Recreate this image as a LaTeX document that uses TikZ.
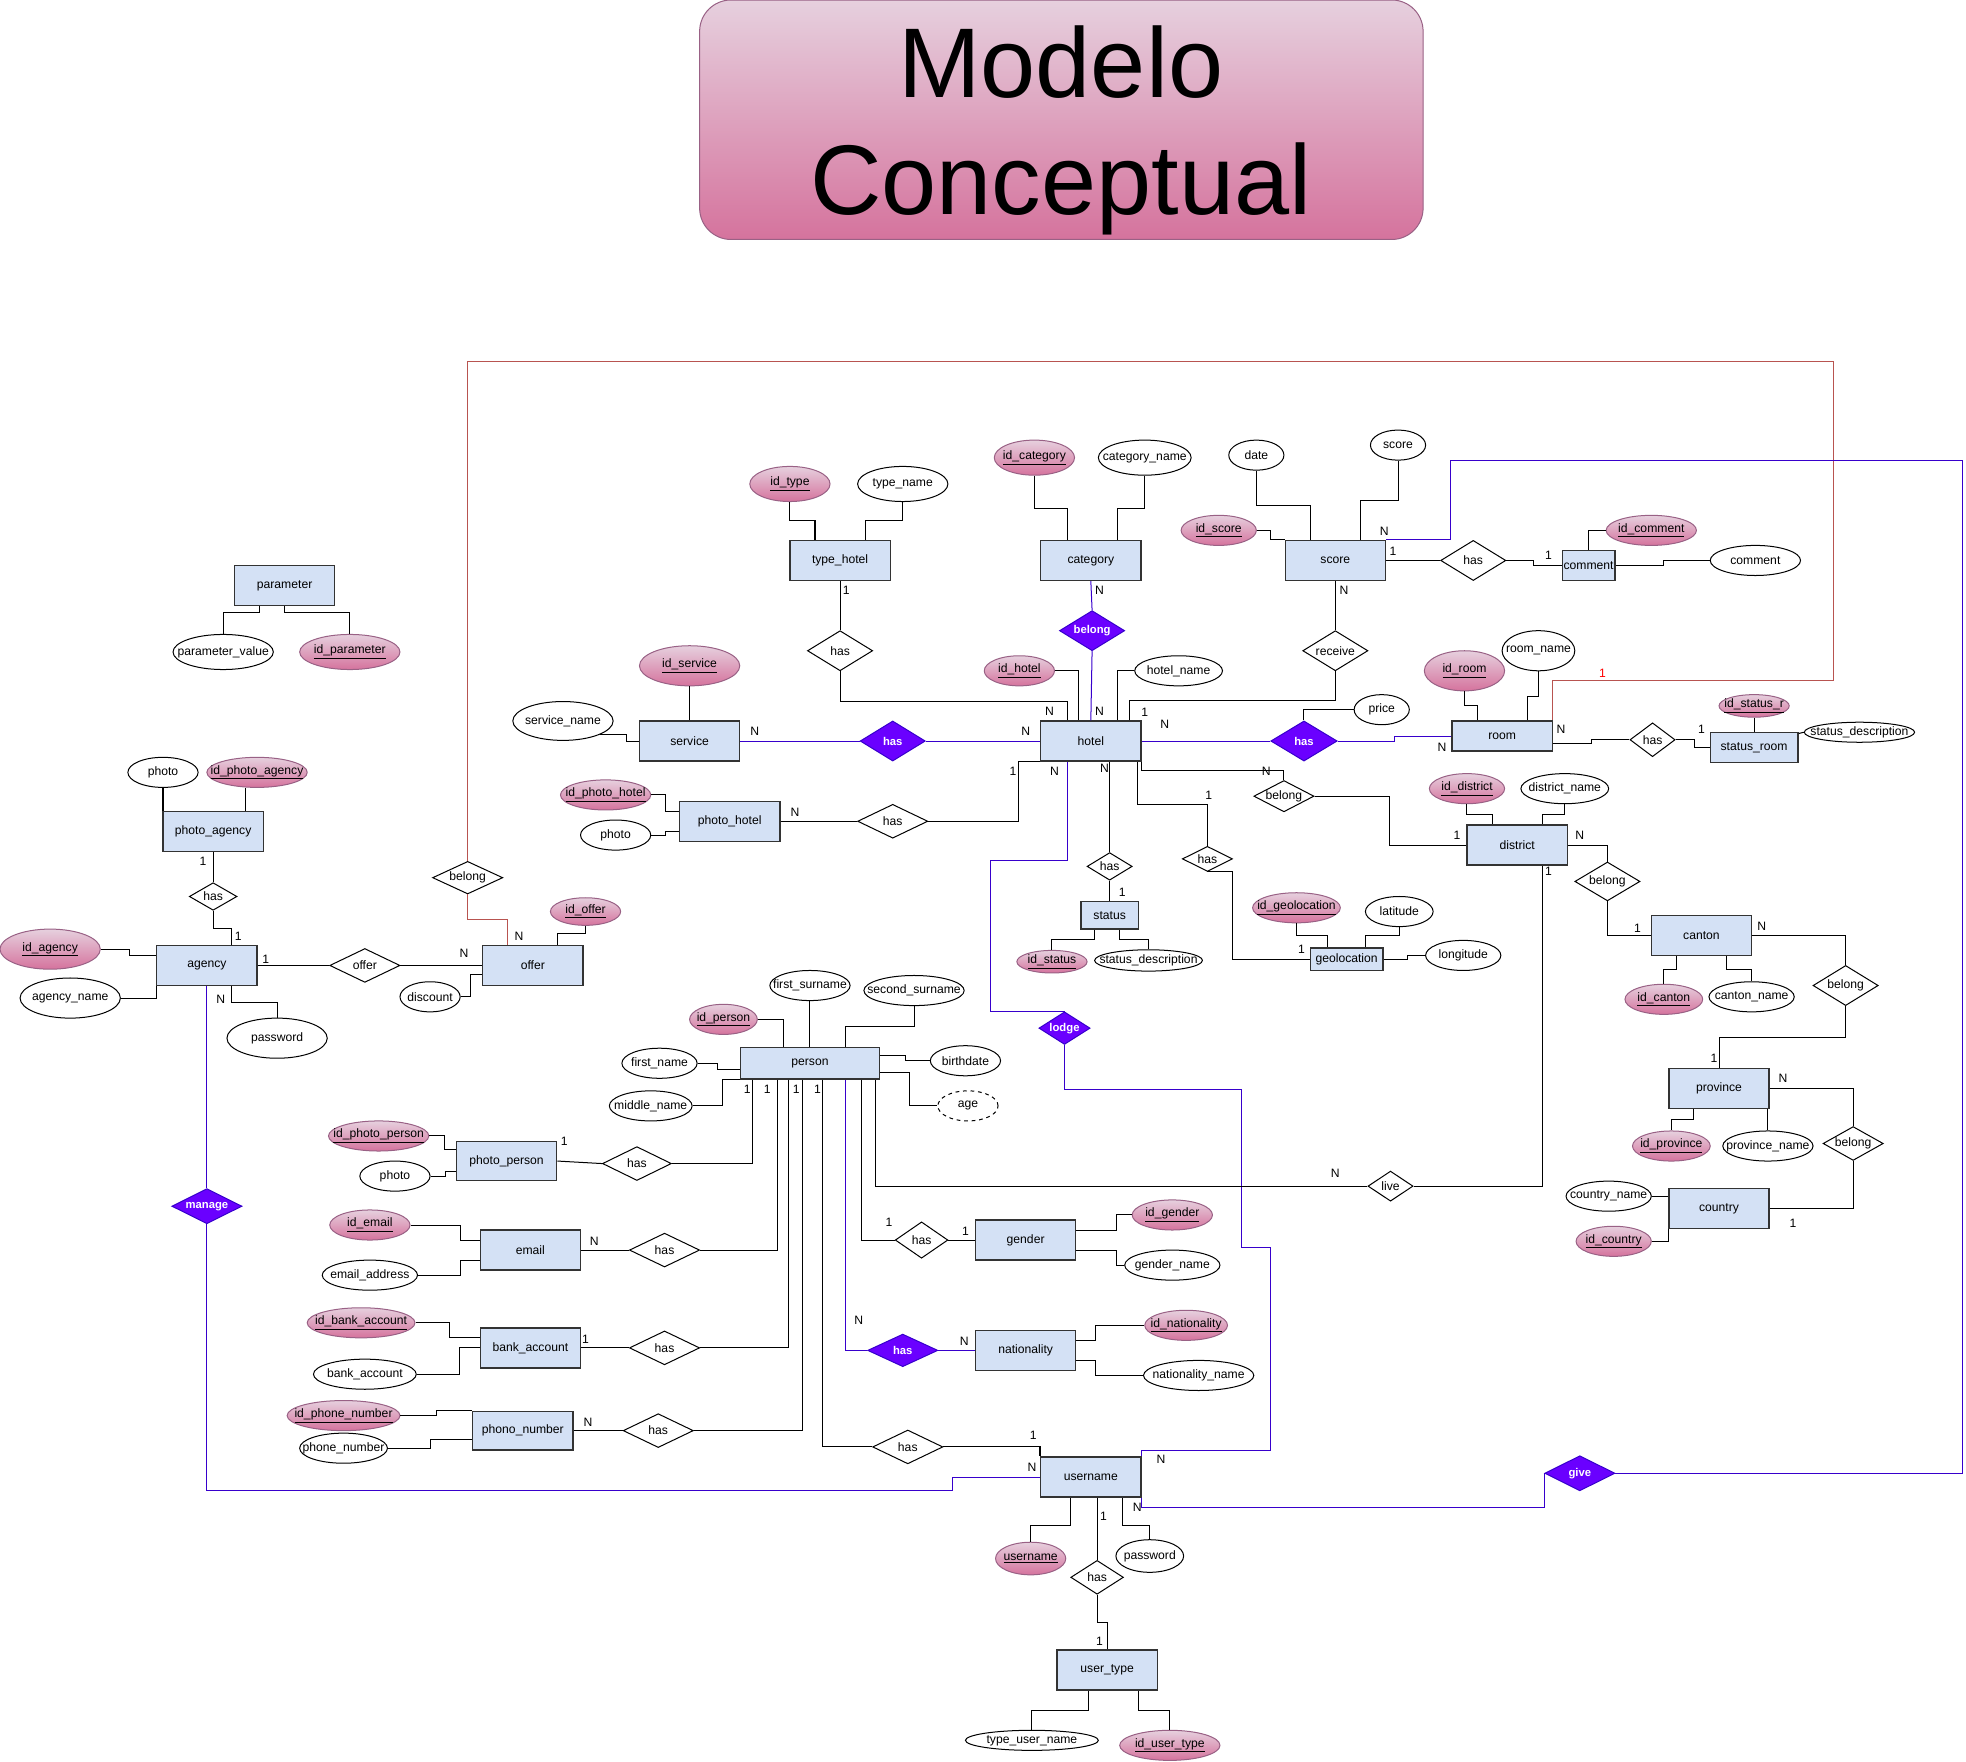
\documentclass[tikz,border=0pt]{standalone}
\usepackage{fontspec}
\setmainfont{Liberation Sans}
\usetikzlibrary{shapes.geometric}

\definecolor{entityfill}{HTML}{D4E1F5}
\definecolor{keytop}{HTML}{E6D0DE}
\definecolor{keybottom}{HTML}{D5739D}
\definecolor{keyline}{HTML}{996185}
\definecolor{relfill}{HTML}{6A00FF}
\definecolor{relline}{HTML}{3700CC}
\definecolor{linkbrown}{HTML}{B85450}

\tikzset{
  entity/.style={draw=black!80, line width=1.1pt, fill=entityfill, minimum width=80, minimum height=32, inner sep=1pt},
  flattext/.style={execute at begin node={\hbox to 0pt\bgroup\hss}, execute at end node={\hss\egroup}},
  attr/.style 2 args={ellipse, draw=black, fill=white, minimum width=#1, minimum height=#2, inner sep=0pt, flattext},
  keyattr/.style 2 args={ellipse, draw=keyline, top color=keytop, bottom color=keybottom, minimum width=#1, minimum height=#2, inner sep=0pt, flattext},
  rel/.style 2 args={diamond, aspect=2, draw=black, fill=white, minimum width=#1, minimum height=#2, inner sep=0pt},
  relp/.style 2 args={rel={#1}{#2}, draw=relline, fill=relfill, text=white, font=\fontsize{9}{10}\selectfont\bfseries},
  card/.style={inner sep=0pt},
  pline/.style={draw=relline},
  bline/.style={draw=linkbrown},
}

\begin{document}
\begin{tikzpicture}[x=1pt, y=-1pt, line width=0.8pt, font=\fontsize{9.7}{11.6}\selectfont]
\useasboundingbox (0,0) rectangle (1568,1405);

% title
\node[draw=keyline, rounded corners=25, top color=keytop, bottom color=keybottom, minimum width=577, minimum height=191, inner sep=0pt] (title) at (846.5,95.5) {};
\node[align=center, inner sep=0pt, font=\fontsize{79}{93}\selectfont] (titletext) at (846,104) {Modelo\\Conceptual};

% entities
\node[entity] (parameter) at (227,467) {parameter};
\node[entity] (photoagency) at (170,663) {photo\_agency};
\node[entity] (agency) at (165,770) {agency};
\node[entity] (offer) at (425,770) {offer};
\node[entity] (service) at (550,591) {service};
\node[entity] (typehotel) at (670,447) {type\_hotel};
\node[entity] (category) at (870,447) {category};
\node[entity] (hotel) at (870,591) {hotel};
\node[entity] (photohotel) at (582,655) {photo\_hotel};
\node[entity] (score) at (1065,447) {score};
\node[entity, minimum width=42, minimum height=24] (comment) at (1267,451) {comment};
\node[entity, minimum height=24] (room) at (1198,587) {room};
\node[entity, minimum width=70, minimum height=24] (statusroom) at (1399,596) {status\_room};
\node[entity, minimum width=46, minimum height=22] (status) at (885,730) {status};
\node[entity, minimum width=58, minimum height=18] (geolocation) at (1074,765) {geolocation};
\node[entity] (district) at (1210,674) {district};
\node[entity] (canton) at (1357,746) {canton};
\node[entity] (province) at (1371,868) {province};
\node[entity] (country) at (1371,964) {country};
\node[entity, minimum width=111, minimum height=25] (person) at (646,848) {person};
\node[entity, minimum height=31] (photoperson) at (404,926) {photo\_person};
\node[entity] (email) at (423,997) {email};
\node[entity] (bank) at (423,1075) {bank\_account};
\node[entity, minimum height=31] (phone) at (417,1141) {phono\_number};
\node[entity] (gender) at (818,989) {gender};
\node[entity] (nationality) at (818,1077) {nationality};
\node[entity] (username) at (870,1178) {username};
\node[entity] (usertype) at (883,1332) {user\_type};

% attributes
\node[attr={80}{28}] (paramvalue) at (178,520) {parameter\_value};
\node[keyattr={80}{28}] (idparameter) at (279,520) {\underline{id\_parameter}};
\node[attr={56}{24}] (photoag) at (130,616) {photo};
\node[keyattr={80}{24}] (idphotoag) at (205,616) {\underline{id\_photo\_agency}};
\node[keyattr={80}{32}] (idagency) at (40,757) {\underline{id\_agency}};
\node[attr={80}{32}] (agencyname) at (56,796) {agency\_name};
\node[attr={80}{32}] (password) at (221,828) {password};
\node[keyattr={56}{22}] (idoffer) at (467,727) {\underline{id\_offer}};
\node[attr={48}{24}] (discount) at (343,795) {discount};
\node[keyattr={80}{32}] (idservice) at (550,531) {\underline{id\_service}};
\node[attr={80}{31}] (servicename) at (449,575) {service\_name};
\node[keyattr={64}{28}] (idtype) at (630,386) {\underline{id\_type}};
\node[attr={72}{28}] (typename) at (720,386) {type\_name};
\node[keyattr={64}{28}] (idcategory) at (825,365) {\underline{id\_category}};
\node[attr={74}{28}] (categoryname) at (913,365) {category\_name};
\node[keyattr={56}{24}] (idhotel) at (813,535) {\underline{id\_hotel}};
\node[attr={70}{24}] (hotelname) at (940,535) {hotel\_name};
\node[keyattr={72}{24}] (idphotohotel) at (483,634) {\underline{id\_photo\_hotel}};
\node[attr={56}{24}] (photoh) at (491,666) {photo};
\node[attr={44}{24}] (date) at (1002,363) {date};
\node[attr={44}{24}] (scoreval) at (1115,355) {score};
\node[keyattr={60}{24}] (idscore) at (972,423) {\underline{id\_score}};
\node[keyattr={72}{24}] (idcomment) at (1317,423) {\underline{id\_comment}};
\node[attr={72}{24}] (commentval) at (1400,447) {comment};
\node[attr={44}{24}] (price) at (1102,566) {price};
\node[keyattr={64}{32}] (idroom) at (1168,535) {\underline{id\_room}};
\node[attr={58}{32}] (roomname) at (1227,519) {room\_name};
\node[keyattr={56}{18}] (idstatusr) at (1399,563) {\underline{id\_status\_r}};
\node[attr={88}{16}] (roomstatusdesc) at (1483,584) {status\_description};
\node[keyattr={56}{18}] (idstatus) at (839,767) {\underline{id\_status}};
\node[attr={86}{17}] (statusdesc) at (916,766) {status\_description};
\node[keyattr={70}{24}] (idgeo) at (1034,724) {\underline{id\_geolocation}};
\node[attr={54}{24}] (latitude) at (1116,727) {latitude};
\node[attr={60}{24}] (longitude) at (1167,762) {longitude};
\node[keyattr={60}{24}] (iddistrict) at (1170,629) {\underline{id\_district}};
\node[attr={70}{24}] (districtname) at (1248,629) {district\_name};
\node[keyattr={62}{24}] (idcanton) at (1327,797) {\underline{id\_canton}};
\node[attr={68}{24}] (cantonname) at (1397,795) {canton\_name};
\node[keyattr={62}{24}] (idprovince) at (1333,914) {\underline{id\_province}};
\node[attr={72}{24}] (provincename) at (1410,914) {province\_name};
\node[attr={68}{24}] (countryname) at (1283,954) {country\_name};
\node[keyattr={60}{24}] (idcountry) at (1287,990) {\underline{id\_country}};
\node[keyattr={54}{24}] (idperson) at (577,813) {\underline{id\_person}};
\node[attr={64}{24}] (firstsurname) at (646,786) {first\_surname};
\node[attr={80}{24}] (secondsurname) at (729,790) {second\_surname};
\node[attr={60}{24}] (firstname) at (526,848) {first\_name};
\node[attr={66}{24}] (middlename) at (519,882) {middle\_name};
\node[attr={56}{24}] (birthdate) at (770,846) {birthdate};
\node[attr={48}{24}, dashed] (age) at (772,882) {age};
\node[keyattr={80}{24}] (idphotoperson) at (302,906) {\underline{id\_photo\_person}};
\node[attr={56}{24}] (photop) at (315,938) {photo};
\node[keyattr={64}{24}] (idemail) at (295,977) {\underline{id\_email}};
\node[attr={76}{24}] (emailaddr) at (295,1017) {email\_address};
\node[keyattr={86}{24}] (idbank) at (288,1055) {\underline{id\_bank\_account}};
\node[attr={82}{24}] (bankacc) at (291,1096) {bank\_account};
\node[keyattr={90}{24}] (idphone) at (274,1129) {\underline{id\_phone\_number}};
\node[attr={70}{24}] (phonenum) at (274,1155) {phone\_number};
\node[keyattr={64}{24}] (idgender) at (935,969) {\underline{id\_gender}};
\node[attr={76}{24}] (gendername) at (935,1009) {gender\_name};
\node[keyattr={66}{24}] (idnat) at (946,1057) {\underline{id\_nationality}};
\node[attr={88}{24}] (natname) at (956,1097) {nationality\_name};
\node[keyattr={56}{26}] (usernamekey) at (822,1243) {\underline{username}};
\node[attr={54}{26}] (password2) at (917,1241) {password};
\node[attr={106}{16}] (typeusername) at (823,1388) {type\_user\_name};
\node[keyattr={80}{24}] (idusertype) at (933,1392) {\underline{id\_user\_type}};

% relationships
\node[rel={38}{22}] (hasphotoag) at (170,715) {has};
\node[rel={56}{27}] (offerrel) at (291,770) {offer};
\node[rel={56}{26}] (belongoffer) at (373,700) {belong};
\node[relp={56}{28}] (manage) at (165,962) {manage};
\node[relp={52}{32}] (hasservice) at (712,591) {has};
\node[rel={52}{32}] (hastype) at (670,519) {has};
\node[relp={52}{32}] (belongcat) at (871,503) {belong};
\node[rel={52}{32}] (receive) at (1065,519) {receive};
\node[relp={53}{32}] (hasroom) at (1040,591) {has};
\node[rel={52}{32}] (hascomment) at (1175,447) {has};
\node[rel={36}{27}] (hasroomst) at (1318,590) {has};
\node[rel={56}{27}] (hasphotoh) at (712,655) {has};
\node[rel={36}{22}] (hasstatus) at (885,691) {has};
\node[rel={40}{20}] (hasgeo) at (963,685) {has};
\node[rel={48}{25}] (belongdist) at (1024,635) {belong};
\node[rel={52}{31}] (belongcanton) at (1282,703) {belong};
\node[rel={52}{32}] (belongprov) at (1472,786) {belong};
\node[rel={48}{27}] (belongcountry) at (1478,912) {belong};
\node[rel={36}{24}] (live) at (1109,946) {live};
\node[relp={40}{26}] (lodge) at (849,820) {lodge};
\node[relp={56}{28}] (give) at (1260,1175) {give};
\node[rel={55}{27}] (hasphotop) at (508,928) {has};
\node[rel={56}{27}] (hasemail) at (530,997) {has};
\node[rel={56}{27}] (hasbank) at (530,1075) {has};
\node[rel={56}{27}] (hasphone) at (525,1141) {has};
\node[rel={56}{27}] (hasuser) at (724,1154) {has};
\node[rel={42}{29}] (hasgender) at (735,989) {has};
\node[relp={56}{26}] (hasnat) at (720,1077) {has};
\node[rel={42}{27}] (hasutype) at (875,1258) {has};

% parameter, agency, offer
\draw ([xshift=-20]parameter.south) -- ++(0,5) -| (paramvalue.north);
\draw (parameter.south) -- ++(0,5) -| (idparameter.north);
\draw (photoag.south) -- (photoag.south |- photoagency.north);
\draw ([xshift=-9]idphotoag.south) -- ([xshift=-9]idphotoag.south |- photoagency.north);
\draw (photoagency.south) -- (hasphotoag.north);
\draw (hasphotoag.south) -- ++(0,14) -| ([xshift=20]agency.north);
\draw (idagency.east) -- ++(23,0) |- ([yshift=8]agency.west);
\draw (agencyname.east) -| (agency.south west);
\draw ([xshift=20]agency.south) -- ++(0,13) -| (password.north);
\draw (agency.east) -- (offerrel.west);
\draw (offerrel.east) -- (offer.west);
\draw[pline] (agency.south) -- (manage.north);
\draw[pline] (manage.south) |- (760,1189) |- (username.west);
\draw[bline] (belongoffer.south) -- ++(0,20) -| ([xshift=-20]offer.north);
\draw[bline] (belongoffer.north) |- (1462,288) -- (1462,543) -| (room.north east);
\draw (idoffer.south) -- ++(0,6) -| ([xshift=20]offer.north);
\draw (discount.east) -- ++(8,0) |- ([yshift=-7]offer.west);

% service, type, category, hotel
\draw (idservice.south) -- (service.north);
\draw (servicename.-20) -- ++(21,0) |- (service.west);
\draw[pline] (service.east) -- (hasservice.west);
\draw[pline] (hasservice.east) -- (hotel.west);
\draw (idtype.south) -- ++(0,15) -| ([xshift=-20]typehotel.north);
\draw (typename.south) -- ++(0,15) -| ([xshift=20]typehotel.north);
\draw (typehotel.south) -- (hastype.north);
\draw (hastype.south) -- ++(0,24) -| ([xshift=-19]hotel.north);
\draw (idcategory.south) -- ++(0,26) -| ([xshift=-19]category.north);
\draw (categoryname.south) -- ++(0,26) -| ([xshift=21]category.north);
\draw[pline] (category.south) -- (belongcat.north);
\draw[pline] (belongcat.south) -- (hotel.north);
\draw (idhotel.east) -| ([xshift=-10]hotel.north);
\draw (hotelname.west) -| ([xshift=21]hotel.north);
\draw ([xshift=31]hotel.north) -- ++(0,-16) -| (receive.south);
\draw[pline] (hotel.east) -- (hasroom.west);
\draw[pline] (hasroom.east) -- ++(45,0) |- (room.west);
\draw (hasroom.north) |- (price.west);
\draw (idphotohotel.east) -- ++(11,0) |- ([yshift=8]photohotel.west);
\draw (photoh.east) -- ++(11,0) |- ([yshift=-8]photohotel.west);
\draw (photohotel.east) -- (hasphotoh.west);
\draw (hasphotoh.east) -| ([xshift=-17]hotel.south west) -- (hotel.south west);
\draw[pline] ([xshift=-19]hotel.south) |- (790,686) |- (lodge.north);
\draw[pline] (lodge.south) |- (990,869) |- (1013,995) -- (1013,1157) -| (username.north east);
\draw ([xshift=15]hotel.south) -- (hasstatus.north);
\draw (hasstatus.south) -- (status.north);
\draw ([xshift=-12]status.south) -- ++(0,8) -| (idstatus.north);
\draw ([xshift=8]status.south) -- ++(0,8) -| (statusdesc.north);
\draw ([xshift=37]hotel.south) -- ++(0,34) -| (hasgeo.north);
\draw (hasgeo.south) -- ++(20,0) |- (geolocation.west);
\draw (idgeo.south) -- ++(0,10) -| ([xshift=-15]geolocation.north);
\draw (latitude.south) -- ++(0,7) -| ([xshift=15]geolocation.north);
\draw (geolocation.east) -- ++(19,0) |- (longitude.west);

% district, canton, province, country
\draw (hotel.south east) -- ++(0,7) -| (belongdist.north);
\draw (belongdist.east) -- ++(60,0) |- (district.west);
\draw (iddistrict.south) -- ++(0,8) -| ([xshift=-20]district.north);
\draw (districtname.south) -- ++(0,8) -| ([xshift=20]district.north);
\draw (district.east) -| (belongcanton.north);
\draw (belongcanton.south) |- (canton.west);
\draw ([xshift=-20]canton.south) -- ++(0,11) -| (idcanton.north);
\draw ([xshift=20]canton.south) -- ++(0,11) -| (cantonname.north);
\draw (canton.east) -| (belongprov.north);
\draw (belongprov.south) -- ++(0,25) -| (province.north);
\draw ([xshift=-20]province.south) -- ++(0,8) -| (idprovince.north);
\draw ([xshift=39]province.south) -- (provincename.north);
\draw (province.east) -| (belongcountry.north);
\draw (belongcountry.south) |- (country.east);
\draw (countryname.east) -- ([yshift=10]country.west);
\draw (idcountry.east) -| (country.south west);
\draw ([xshift=20]district.south) |- (live.east);
\draw (live.west) -| ([xshift=52]person.south);

% score, comment, room
\draw (date.south) -- ++(0,28) -| ([xshift=-20]score.north);
\draw (scoreval.south) -- ++(0,32) -| ([xshift=20]score.north);
\draw (idscore.east) -- ++(11,0) |- (score.north west);
\draw (score.south) -- (receive.north);
\draw (score.east) -- (hascomment.west);
\draw (hascomment.east) -- ++(22,0) |- (comment.west);
\draw (idcomment.west) -| (comment.north);
\draw (comment.east) -- ++(38,0) |- (commentval.west);
\draw[pline] (score.north east) -| (1157,367) -| (1565,1175) -- (give.east);
\draw[pline] (give.west) |- (1100,1202) -| (username.south east);
\draw (idroom.south) -- ++(0,11) -| ([xshift=-20]room.north);
\draw (roomname.south) -- ++(0,20) -| ([xshift=20]room.north);
\draw ([yshift=-6]room.east) -- ++(31,0) |- (hasroomst.west);
\draw (hasroomst.east) -- ++(15,0) |- (statusroom.west);
\draw (idstatusr.south) -- (statusroom.north);
\draw ([yshift=11]statusroom.east) -- (roomstatusdesc.west);

% person
\draw (idperson.east) -| ([xshift=-21]person.north);
\draw (firstsurname.south) -- (person.north);
\draw (secondsurname.south) -- ++(0,16) -| ([xshift=28]person.north);
\draw (firstname.east) -- ++(16,0) |- ([yshift=-5]person.west);
\draw (middlename.east) -- ++(24,0) |- (person.south west);
\draw ([yshift=6]person.east) -- ++(20,0) |- (birthdate.west);
\draw ([yshift=-7]person.east) -- ++(23,0) |- (age.west);
\draw ([xshift=-46]person.south) |- (hasphotop.east);
\draw ([xshift=-26]person.south) |- (hasemail.east);
\draw ([xshift=-17]person.south) |- (hasbank.east);
\draw ([xshift=-6]person.south) |- (hasphone.east);
\draw ([xshift=10]person.south) |- (hasuser.west);
\draw[pline] ([xshift=28]person.south) |- (hasnat.west);
\draw ([xshift=41]person.south) |- (hasgender.west);
\draw (idphotoperson.east) -- ++(12,0) |- ([yshift=9]photoperson.west);
\draw (photop.east) -- ++(12,0) |- ([yshift=-8]photoperson.west);
\draw (photoperson.east) -- (hasphotop.west);
\draw (idemail.east) -- ++(40,0) |- ([yshift=8]email.west);
\draw (emailaddr.east) -- ++(34,0) |- ([yshift=-8]email.west);
\draw (email.east) -- (hasemail.west);
\draw (idbank.east) -- ++(27,0) |- ([yshift=8]bank.west);
\draw (bankacc.east) -- ++(34,0) |- (bank.west);
\draw (bank.east) -- (hasbank.west);
\draw (idphone.east) -- ++(29,0) |- (phone.north west);
\draw (phonenum.east) -- ++(34,0) |- ([yshift=-7]phone.west);
\draw (phone.east) -- (hasphone.west);
\draw (hasuser.east) -| (username.north west);
\draw (hasgender.east) -- (gender.west);
\draw ([yshift=8]gender.east) -- ++(32,0) |- (idgender.west);
\draw ([yshift=-8]gender.east) -- ++(32,0) |- (gendername.west);
\draw[pline] (hasnat.east) -- (nationality.west);
\draw ([yshift=8]nationality.east) -- ++(15,0) |- (idnat.west);
\draw ([yshift=-8]nationality.east) -- ++(15,0) |- (natname.west);

% username, user_type
\draw ([xshift=-16]username.south) -- ++(0,22) -| (usernamekey.north);
\draw ([xshift=25]username.south) -- ++(0,22) -| (password2.north);
\draw ([xshift=5]username.south) -- (hasutype.north);
\draw (hasutype.south) -- ++(0,22) -| (usertype.north);
\draw ([xshift=-15]usertype.south) -- ++(0,16) -| (typeusername.north);
\draw ([xshift=25]usertype.south) -- ++(0,16) -| (idusertype.north);

% cardinalities
\foreach \p/\t [count=\i] in {{(162,687)}/1, {(190,747)}/1, {(212,765)}/1, {(176,797)}/N,
  {(370,760)}/N, {(414,747)}/N, {(602,583)}/N, {(818,583)}/N, {(675,471)}/1, {(877,471)}/N,
  {(837,567)}/N, {(877,567)}/N, {(913,568)}/1, {(929,578)}/N, {(808,615)}/1, {(841,615)}/N,
  {(881,613)}/N, {(634,648)}/N, {(1104,424)}/N, {(1111,440)}/1, {(1235,443)}/1, {(1072,471)}/N,
  {(1150,596)}/N, {(1245,582)}/N, {(1357,582)}/1, {(1010,615)}/N, {(964,634)}/1, {(895,712)}/1,
  {(1038,757)}/1, {(1162,666)}/1, {(1260,666)}/N, {(1235,695)}/1, {(1306,740)}/1, {(1405,739)}/N,
  {(1367,844)}/1, {(1422,860)}/N, {(1430,976)}/1, {(1065,936)}/N, {(596,869)}/1, {(612,869)}/1,
  {(635,869)}/1, {(652,869)}/1, {(450,910)}/1, {(474,990)}/N, {(467,1068)}/1, {(469,1134)}/N,
  {(709,975)}/1, {(770,982)}/1, {(685,1053)}/N, {(769,1070)}/N, {(824,1145)}/1, {(823,1170)}/N,
  {(926,1164)}/N, {(907,1202)}/N, {(880,1209)}/1, {(877,1309)}/1}
  \node[card] (card\i) at \p {\t};
\node[card, text=red] (cardroom) at (1278,537) {1};
\end{tikzpicture}
\end{document}
